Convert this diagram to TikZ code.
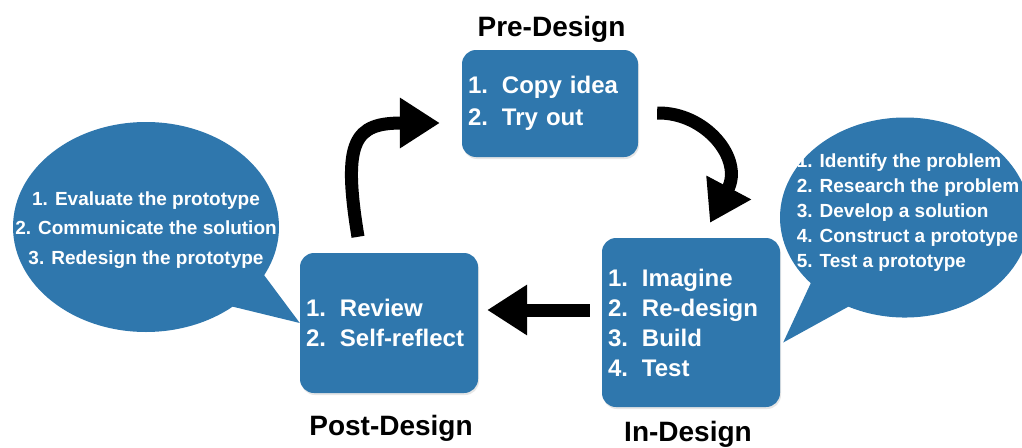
\documentclass[tikz,border=0pt]{standalone}
\usepackage{fontspec}
\setmainfont{Liberation Sans}
\usetikzlibrary{arrows.meta,calc,shapes.callouts,shadows}

\definecolor{stageblue}{RGB}{47,119,173}
\newcommand\stnum[1]{\makebox[34pt][l]{#1}}

\tikzset{
  stagebox/.style={fill=stageblue, rounded corners=14pt, text=white, align=left,
    font=\fontsize{24}{30}\selectfont\bfseries, inner xsep=6pt, inner ysep=0pt,
    drop shadow={opacity=0.2, shadow xshift=1pt, shadow yshift=-2pt}},
  stagetitle/.style={font=\fontsize{28}{34}\selectfont\bfseries, anchor=base},
  bubble/.style={ellipse callout, fill=stageblue, inner sep=0pt, callout pointer arc=22},
  bubbletext/.style={text=white, font=\fontsize{19}{25}\selectfont\bfseries},
  bigarrow/.style={line width=13pt, -{Triangle[length=40pt,width=48pt]}},
}

\begin{document}
\begin{tikzpicture}[x=1pt,y=-1pt]
\useasboundingbox (0,0) rectangle (1022,447);

% the three stages
\node [stagebox, text width=164pt, minimum height=107pt] (pre)  at (550,103.5) {\stnum{1.}Copy idea\\[2pt]\stnum{2.}Try out};
\node [stagebox, text width=166pt, minimum height=169pt] (in)   at (691,322.5) {\stnum{1.}Imagine\\\stnum{2.}Re-design\\\stnum{3.}Build\\\stnum{4.}Test};
\node [stagebox, text width=166pt, minimum height=140pt] (post) at (389,323)   {\stnum{1.}Review\\\stnum{2.}Self-reflect};

\node [stagetitle] (pretitle)  at (551.5,36.7) {Pre-Design};
\node [stagetitle] (posttitle) at (391,435)    {Post-Design};
\node [stagetitle] (intitle)   at (688,441)    {In-Design};

% speech bubbles
\node [bubble, minimum width=266pt, minimum height=210pt, callout absolute pointer={(post.west)}] (evalbub) at (146,227) {};
\node [bubbletext, align=center] (evaltext) at (146,230) {1. Evaluate the prototype\\[4.5pt]2. Communicate the solution\\[4.5pt]3. Redesign the prototype};

\coordinate (designtip) at ($(in.east)+(3,20)$);
\node [bubble, minimum width=250pt, minimum height=200pt, callout absolute pointer={(designtip)}] (designbub) at (905,217.5) {};
\node [bubbletext, align=left] (designtext) at (908,213) {1. Identify the problem\\2. Research the problem\\3. Develop a solution\\4. Construct a prototype\\5. Test a prototype};

% arrows round the cycle
\draw [bigarrow] ($(pre.east)+(19,9.5)$) .. controls +(48,-1) and +(34,-64) .. ($(in.north)+(19,-15)$);
\draw [bigarrow] ($(in.west)+(-12,-12.5)$) -- ($(post.east)+(9,-13)$);
\draw [bigarrow] ($(post.north)+(-31,-16)$) .. controls +(-16,-97) and +(-85,0) .. ($(pre.west)+(-22,19.5)$);

\end{tikzpicture}
\end{document}
